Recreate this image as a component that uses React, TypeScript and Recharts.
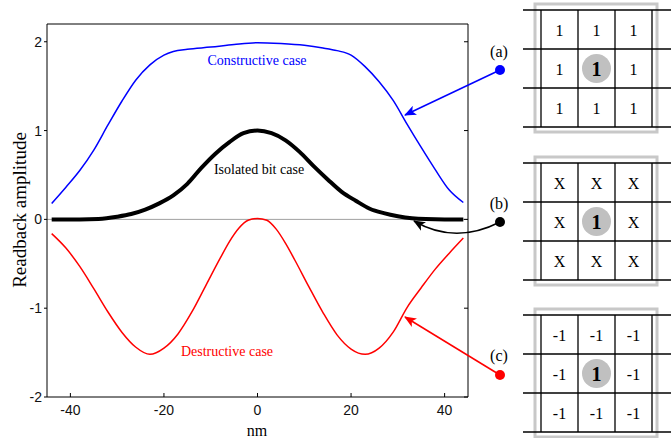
import React from "react";
import { LineChart, Line, XAxis, YAxis, ReferenceLine } from "recharts";

// sample positions (nm) and readback amplitudes
const constructiveX = [-44, -41, -38, -35, -32, -29, -26, -23, -20, -18, -15, -10, -5, 0, 5, 10, 14, 17, 20, 23, 26, 29, 32, 35, 38, 41, 44];
const constructiveY = [0.18, 0.36, 0.55, 0.78, 1.06, 1.33, 1.57, 1.74, 1.85, 1.89, 1.915, 1.94, 1.97, 1.99, 1.98, 1.96, 1.93, 1.9, 1.85, 1.72, 1.55, 1.34, 1.07, 0.81, 0.56, 0.33, 0.19];

const isolatedX = [-44, -38, -34, -30, -27, -24, -21, -18, -15, -12, -9, -6, -3, 0, 3, 6, 9, 12, 15, 18, 21, 24, 27, 30, 33, 36, 40, 44];
const isolatedY = [0, 0, 0.005, 0.03, 0.06, 0.11, 0.18, 0.27, 0.4, 0.58, 0.74, 0.87, 0.97, 1.0, 0.97, 0.89, 0.76, 0.6, 0.45, 0.31, 0.21, 0.12, 0.07, 0.035, 0.012, 0.003, 0, 0];

const destructiveX = [-44, -41, -38, -35, -32, -29, -26, -23, -20, -17, -14, -11, -8, -6, -4, -2, 0, 2, 4, 6, 8, 11, 14, 17, 20, 23, 26, 29, 32, 35, 38, 41, 44];
const destructiveY = [-0.16, -0.32, -0.53, -0.78, -1.04, -1.27, -1.44, -1.52, -1.45, -1.29, -1.04, -0.74, -0.44, -0.25, -0.1, -0.01, 0.01, -0.01, -0.11, -0.27, -0.46, -0.76, -1.05, -1.3, -1.46, -1.52, -1.45, -1.27, -0.99, -0.77, -0.56, -0.38, -0.21];

const nmTicks = [-40, -20, 0, 20, 40];
const ampTicks = [-2, -1, 0, 1, 2];

const gridA = ["1", "1", "1", "1", "1", "1", "1", "1", "1"];
const gridB = ["X", "X", "X", "X", "1", "X", "X", "X", "X"];
const gridC = ["-1", "-1", "-1", "-1", "1", "-1", "-1", "-1", "-1"];

const zip = (xs: number[], ys: number[]) => xs.map((x, i) => ({ x, y: ys[i] }));

const serif = "'Liberation Serif', 'Times New Roman', serif";
const sans = "'Liberation Sans', Arial, sans-serif";

const XTick = (props: any) => {
  const { x, y, payload } = props;
  return (
    <g>
      <line x1={x} y1={y} x2={x} y2={y - 4} stroke="#000" />
      <text x={x} y={y + 18} textAnchor="middle" fontFamily={sans} fontSize={14} fill="#111">
        {payload.value}
      </text>
    </g>
  );
};

const TopTick = (props: any) => {
  const { x, y } = props;
  return <line x1={x} y1={y} x2={x} y2={y + 4} stroke="#000" />;
};

const YTick = (props: any) => {
  const { x, y, payload } = props;
  return (
    <g>
      <line x1={x - 3} y1={y} x2={x} y2={y} stroke="#000" />
      <text x={x - 5} y={y + 5} textAnchor="end" fontFamily={sans} fontSize={14} fill="#111">
        {payload.value}
      </text>
    </g>
  );
};

const RightTick = (props: any) => {
  const { x, y } = props;
  return <line x1={x} y1={y} x2={x - 4} y2={y} stroke="#000" />;
};

// one 3x3 bit-pattern diagram
const BitGrid = ({ y0, cells }: { y0: number; cells: string[] }) => {
  const xs = [541, 578, 615, 652];
  const ys = [y0, y0 + 39, y0 + 78, y0 + 117];
  return (
    <g>
      <rect x={535} y={y0 - 6} width={122} height={128} fill="none" stroke="#c8c8c8" strokeWidth={3} />
      {ys.map((yy) => (
        <line key={"h" + yy} x1={523} y1={yy} x2={671} y2={yy} stroke="#000" strokeWidth={1.3} />
      ))}
      {xs.map((xx) => (
        <line key={"v" + xx} x1={xx} y1={y0} x2={xx} y2={y0 + 117} stroke="#000" strokeWidth={1.3} />
      ))}
      <circle cx={596.5} cy={y0 + 58.5} r={14.5} fill="#c0c0c0" />
      {cells.map((c, i) => {
        const cx = 559.5 + (i % 3) * 37;
        const cy = y0 + 19.5 + Math.floor(i / 3) * 39;
        const center = i === 4;
        return (
          <text
            key={i}
            x={cx}
            y={cy + (center ? 7 : 6)}
            textAnchor="middle"
            fontFamily={serif}
            fontSize={center ? 20 : 16}
            fontWeight={center ? "bold" : "normal"}
            fill="#000"
          >
            {c}
          </text>
        );
      })}
    </g>
  );
};

export default function App() {
  return (
    <div style={{ position: "absolute", left: 0, top: 0, width: 671, height: 438, background: "#fff" }}>
      <LineChart width={671} height={438} margin={{ top: 23, right: 202, bottom: 40, left: 46 }}>
        <XAxis
          dataKey="x"
          type="number"
          domain={[-45, 45]}
          ticks={nmTicks}
          height={1}
          tickSize={0}
          tickMargin={0}
          stroke="#000"
          tick={<XTick />}
          allowDataOverflow
        />
        <XAxis
          xAxisId="top"
          orientation="top"
          type="number"
          domain={[-45, 45]}
          ticks={nmTicks}
          height={1}
          tickSize={0}
          tickMargin={0}
          stroke="#000"
          tick={<TopTick />}
          allowDataOverflow
        />
        <YAxis
          type="number"
          domain={[-2, 2.2]}
          ticks={ampTicks}
          width={1}
          tickSize={0}
          tickMargin={0}
          stroke="#000"
          tick={<YTick />}
          allowDataOverflow
        />
        <YAxis
          yAxisId="right"
          orientation="right"
          type="number"
          domain={[-2, 2.2]}
          ticks={ampTicks}
          width={1}
          tickSize={0}
          tickMargin={0}
          stroke="#000"
          tick={<RightTick />}
          allowDataOverflow
        />
        <ReferenceLine y={0} stroke="#a0a0a0" strokeWidth={1} />
        <Line
          data={zip(constructiveX, constructiveY)}
          dataKey="y"
          type="monotone"
          stroke="#0000ff"
          strokeWidth={1.5}
          dot={false}
          isAnimationActive={false}
        />
        <Line
          data={zip(destructiveX, destructiveY)}
          dataKey="y"
          type="monotone"
          stroke="#ff0000"
          strokeWidth={1.5}
          dot={false}
          isAnimationActive={false}
        />
        <Line
          data={zip(isolatedX, isolatedY)}
          dataKey="y"
          type="monotone"
          stroke="#000"
          strokeWidth={4}
          dot={false}
          isAnimationActive={false}
        />
      </LineChart>

      <svg
        width={671}
        height={438}
        style={{ position: "absolute", left: 0, top: 0, pointerEvents: "none" }}
      >
        <defs>
          {[
            ["arrBlue", "#0000ff"],
            ["arrBlack", "#000"],
            ["arrRed", "#ff0000"],
          ].map(([id, col]) => (
            <marker key={id} id={id} markerWidth={12} markerHeight={10} refX={11} refY={5} orient="auto" markerUnits="userSpaceOnUse">
              <path d="M0,0 L12,5 L0,10 L3,5 Z" fill={col} />
            </marker>
          ))}
        </defs>

        <text x={257} y={65} textAnchor="middle" fontFamily={serif} fontSize={14} fill="#0000ff">
          Constructive case
        </text>
        <text x={259} y={174} textAnchor="middle" fontFamily={serif} fontSize={14} fill="#000">
          Isolated bit case
        </text>
        <text x={227} y={356} textAnchor="middle" fontFamily={serif} fontSize={14} fill="#ff0000">
          Destructive case
        </text>

        <text
          x={26}
          y={210}
          transform="rotate(-90 26 210)"
          textAnchor="middle"
          fontFamily={serif}
          fontSize={19}
          fill="#000"
        >
          Readback amplitude
        </text>
        <text x={257} y={436} textAnchor="middle" fontFamily={serif} fontSize={16} fill="#000">
          nm
        </text>

        <line x1={500} y1={70} x2={405} y2={115} stroke="#0000ff" strokeWidth={1.5} markerEnd="url(#arrBlue)" />
        <circle cx={500} cy={70} r={5} fill="#0000ff" />
        <text x={499} y={57} textAnchor="middle" fontFamily={serif} fontSize={16} fill="#000">
          (a)
        </text>

        <path d="M500,222 Q455,245 414,221" fill="none" stroke="#000" strokeWidth={1.5} markerEnd="url(#arrBlack)" />
        <circle cx={500} cy={222} r={5} fill="#000" />
        <text x={499} y={209} textAnchor="middle" fontFamily={serif} fontSize={16} fill="#000">
          (b)
        </text>

        <line x1={500} y1={375} x2={405} y2={317} stroke="#ff0000" strokeWidth={1.5} markerEnd="url(#arrRed)" />
        <circle cx={500} cy={375} r={5} fill="#ff0000" />
        <text x={499} y={361} textAnchor="middle" fontFamily={serif} fontSize={16} fill="#000">
          (c)
        </text>

        <BitGrid y0={10} cells={gridA} />
        <BitGrid y0={163} cells={gridB} />
        <BitGrid y0={315} cells={gridC} />
      </svg>
    </div>
  );
}
